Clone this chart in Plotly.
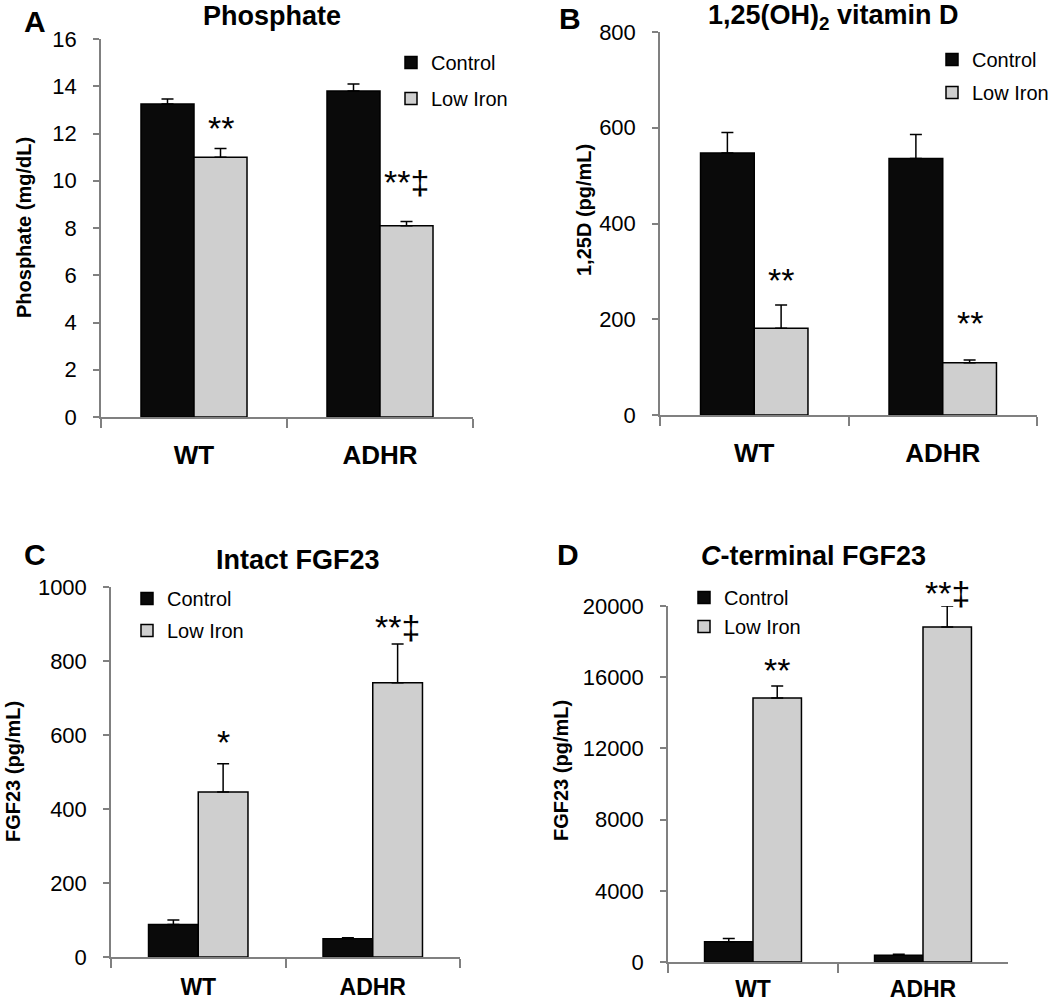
import plotly.graph_objects as go

FONT = "Liberation Sans, Arial, sans-serif"
W, H = 1050, 1006

groups = ["WT", "ADHR"]
series = ["Control", "Low Iron"]

# Panel A: Phosphate (mg/dL)
phos_ctrl = [13.25, 13.8]
phos_ctrl_err = [0.21, 0.30]
phos_low = [11.0, 8.1]
phos_low_err = [0.36, 0.18]
phos_sig = ["**", "**‡"]
phos_sig_y = [12.44, 10.16]

# Panel B: 1,25(OH)2 vitamin D (pg/mL)
vitd_ctrl = [547, 536]
vitd_ctrl_err = [43, 50]
vitd_low = [181, 109]
vitd_low_err = [49, 6]
vitd_sig = ["**", "**"]
vitd_sig_y = [292, 203]

# Panel C: Intact FGF23 (pg/mL)
ifgf_ctrl = [88, 49]
ifgf_ctrl_err = [12, 3]
ifgf_low = [446, 741]
ifgf_low_err = [76, 105]
ifgf_sig = ["*", "**‡"]
ifgf_sig_y = [595, 905]

# Panel D: C-terminal FGF23 (pg/mL)
cfgf_ctrl = [1140, 375]
cfgf_ctrl_err = [180, 55]
cfgf_low = [14830, 18820]
cfgf_low_err = [670, 1180]
cfgf_sig = ["**", "**‡"]
cfgf_sig_y = [16685, 21010]

titles = ["Phosphate", "1,25(OH)<sub>2</sub> vitamin D", "Intact FGF23", "<i>C</i>-terminal FGF23"]
letters = ["A", "B", "C", "D"]
ytitles = ["Phosphate (mg/dL)", "1,25D (pg/mL)", "FGF23 (pg/mL)", "FGF23 (pg/mL)"]
ymax = [16, 800, 1000, 20000]
ystep = [2, 200, 200, 4000]

panels = [
    dict(ctrl=phos_ctrl, ce=phos_ctrl_err, low=phos_low, le=phos_low_err, sig=phos_sig, sy=phos_sig_y,
         px=(101, 473), py=(39, 417), title=(272, 16), letter=(35, 22), ytit=(24, 228), leg=(391, 43, 7),
         xfs=26, xso=14),
    dict(ctrl=vitd_ctrl, ce=vitd_ctrl_err, low=vitd_low, le=vitd_low_err, sig=vitd_sig, sy=vitd_sig_y,
         px=(660, 1037), py=(32, 415), title=(833, 17), letter=(570, 19), ytit=(584, 210), leg=(932, 40, 4),
         xfs=26, xso=14),
    dict(ctrl=ifgf_ctrl, ce=ifgf_ctrl_err, low=ifgf_low, le=ifgf_low_err, sig=ifgf_sig, sy=ifgf_sig_y,
         px=(111, 460), py=(587, 957), title=(298, 560), letter=(35, 554), ytit=(13, 772), leg=(127, 579, 3),
         xfs=23, xso=9),
    dict(ctrl=cfgf_ctrl, ce=cfgf_ctrl_err, low=cfgf_low, le=cfgf_low_err, sig=cfgf_sig, sy=cfgf_sig_y,
         px=(668, 1008), py=(606, 962), title=(813, 556), letter=(568, 554), ytit=(561, 771), leg=(684, 578, 0),
         xfs=23, xso=6),
]

BARGAP = 0.43
low_offset = (1 - BARGAP) / 4

fig = go.Figure()
annotations = []
layout = {}

for i, p in enumerate(panels):
    n = i + 1
    xa = "x" if n == 1 else f"x{n}"
    ya = "y" if n == 1 else f"y{n}"
    leg = "legend" if n == 1 else f"legend{n}"
    fig.add_trace(go.Bar(
        x=groups, y=p["ctrl"], name=series[0], xaxis=xa, yaxis=ya, legend=leg,
        legendgroup=f"c{n}", offsetgroup="c",
        marker=dict(color="#0a0a0a", line=dict(color="black", width=1.5)),
        error_y=dict(type="data", array=p["ce"], arrayminus=[0, 0], symmetric=False,
                     color="black", thickness=1.5, width=6),
    ))
    fig.add_trace(go.Bar(
        x=groups, y=p["low"], name=series[1], xaxis=xa, yaxis=ya, legend=leg,
        legendgroup=f"l{n}", offsetgroup="l",
        marker=dict(color="#cfcfcf", line=dict(color="black", width=1.5)),
        error_y=dict(type="data", array=p["le"], arrayminus=[0, 0], symmetric=False,
                     color="black", thickness=1.5, width=6),
    ))
    x0, x1 = p["px"]
    y0, y1 = p["py"]
    dom_x = [x0 / W, x1 / W]
    dom_y = [1 - y1 / H, 1 - y0 / H]
    axis_common = dict(showline=True, linecolor="#808080", linewidth=1.5, ticks="outside",
                       tickcolor="#808080", tickwidth=1.5, showgrid=False, zeroline=False,
                       automargin=False)
    layout["xaxis" if n == 1 else f"xaxis{n}"] = dict(
        domain=dom_x, anchor=ya, type="category", range=[-0.5, 1.5],
        tickson="boundaries", ticklen=9, ticklabelstandoff=p["xso"],
        tickfont=dict(family=FONT, size=p["xfs"], color="black", weight="bold"), **axis_common)
    layout["yaxis" if n == 1 else f"yaxis{n}"] = dict(
        domain=dom_y, anchor=xa, range=[0, ymax[i]], dtick=ystep[i], tick0=0, tickformat="d",
        ticklen=6, ticklabelstandoff=12,
        tickfont=dict(family=FONT, size=22, color="black"), **axis_common)
    lx, ly, gap = p["leg"]
    layout[leg] = dict(x=lx / W, y=1 - ly / H, xanchor="left", yanchor="top",
                       bgcolor="rgba(0,0,0,0)", borderwidth=0, tracegroupgap=gap,
                       font=dict(family=FONT, size=20, color="black"))
    tx, ty = p["title"]
    annotations.append(dict(text=f"<b>{titles[i]}</b>", x=tx / W, y=1 - ty / H, xref="paper", yref="paper",
                            xanchor="center", yanchor="middle", showarrow=False,
                            font=dict(family=FONT, size=27, color="black")))
    lx2, ly2 = p["letter"]
    annotations.append(dict(text=f"<b>{letters[i]}</b>", x=lx2 / W, y=1 - ly2 / H, xref="paper", yref="paper",
                            xanchor="center", yanchor="middle", showarrow=False,
                            font=dict(family=FONT, size=30, color="black")))
    yx, yy = p["ytit"]
    annotations.append(dict(text=f"<b>{ytitles[i]}</b>", x=yx / W, y=1 - yy / H, xref="paper", yref="paper",
                            xanchor="center", yanchor="middle", textangle=-90, showarrow=False,
                            font=dict(family=FONT, size=20, color="black")))
    for j, (s, sy) in enumerate(zip(p["sig"], p["sy"])):
        # convert data value to paper fraction so labels above the axis range still show
        yp = dom_y[0] + (sy / ymax[i]) * (dom_y[1] - dom_y[0])
        annotations.append(dict(text=s, x=j + low_offset, y=yp, xref=xa, yref="paper",
                                xanchor="center", yanchor="middle", yshift=-5, showarrow=False,
                                font=dict(family=FONT, size=34, color="black")))

fig.update_layout(
    width=W, height=H, margin=dict(l=0, r=0, t=0, b=0, pad=0, autoexpand=False),
    paper_bgcolor="white", plot_bgcolor="white",
    barmode="group", bargap=BARGAP, bargroupgap=0,
    font=dict(family=FONT, color="black"),
    annotations=annotations, **layout,
)

fig.write_html(
    "out.html",
    config={"displayModeBar": False},
    post_script=(
        "var gd=document.getElementById('{plot_id}');"
        "gd.style.position='fixed';gd.style.left='0px';gd.style.top='0px';"
        "document.body.style.margin='0';document.body.style.overflow='hidden';"
        "document.documentElement.style.overflow='hidden';"
    ),
)
